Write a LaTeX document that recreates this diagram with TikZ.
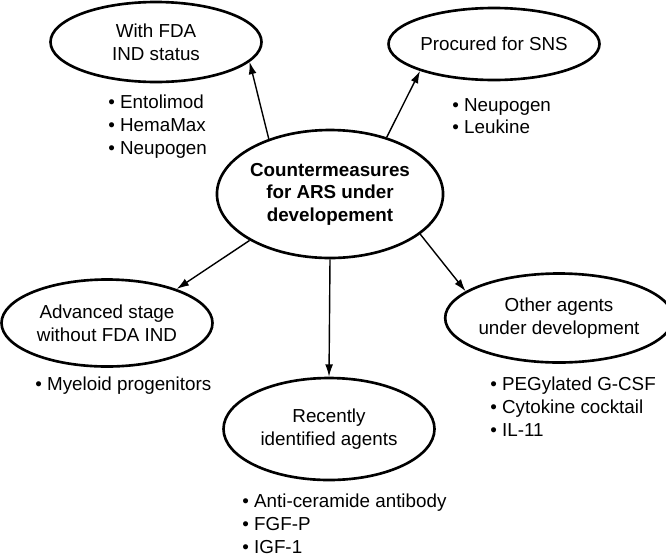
\documentclass[tikz,border=0pt]{standalone}
\usepackage{fontspec}
\setmainfont{Liberation Sans}
\usetikzlibrary{shapes.geometric, arrows.meta}
\tikzstyle{group} = [ellipse, 
minimum width=4.22cm, 
minimum height=1.74cm, 
inner sep=0pt, 
align=center, 
draw=black, 
line width=1.5pt]
\tikzstyle{core} = [group, 
minimum height=2.56cm, 
font=\fontsize{10.7}{12.8}\selectfont\bfseries]
\tikzstyle{items} = [anchor=north west, 
align=left, 
inner sep=0pt]
\tikzstyle{arrow} = [line width=0.8pt,-{Latex[length=7pt,width=4.5pt]}]

\begin{document}
\begin{tikzpicture}[every node/.style={font=\fontsize{10.7}{12.9}\selectfont}]
  \useasboundingbox (0,0) rectangle (13.32,-11.14);
  
  \node (core) [core] at (6.60,-3.88) {Countermeasures\\for ARS under\\developement};
  
  \node (fda) [group, minimum height=1.6cm] at (3.12,-0.84) {With FDA\\IND status};
  \node (sns) [group, minimum height=1.44cm] at (9.88,-0.88) {Procured for SNS};
  \node (adv) [group] at (2.14,-6.46) {Advanced stage\\without FDA IND};
  \node (oth) [group, minimum height=1.78cm] at (11.18,-6.36) {Other agents\\under development};
  \node (rec) [group, minimum height=2.04cm] at (6.58,-8.58) {Recently\\identified agents};
  
  \node (fdalist) [items] at (2.16,-1.90) {\textbullet\ Entolimod\\\textbullet\ HemaMax\\\textbullet\ Neupogen};
  \node (snslist) [items] at (9.04,-1.96) {\textbullet\ Neupogen\\\textbullet\ Leukine};
  \node (advlist) [items] at (0.70,-7.54) {\textbullet\ Myeloid progenitors};
  \node (othlist) [items] at (9.80,-7.54) {\textbullet\ PEGylated G-CSF\\\textbullet\ Cytokine cocktail\\\textbullet\ IL-11};
  \node (reclist) [items] at (4.84,-9.88) {\textbullet\ Anti-ceramide antibody\\\textbullet\ FGF-P\\\textbullet\ IGF-1};

  \draw [arrow] (core.138) -- (fda.-12);
  \draw [arrow] (core.45) -- (sns.200);
  \draw [arrow] (core.210) -- (adv.26);
  \draw [arrow] (core.south) -- (rec.north);
  \draw [arrow] (core.336) -- (oth.164);
  
\end{tikzpicture}
\end{document}
